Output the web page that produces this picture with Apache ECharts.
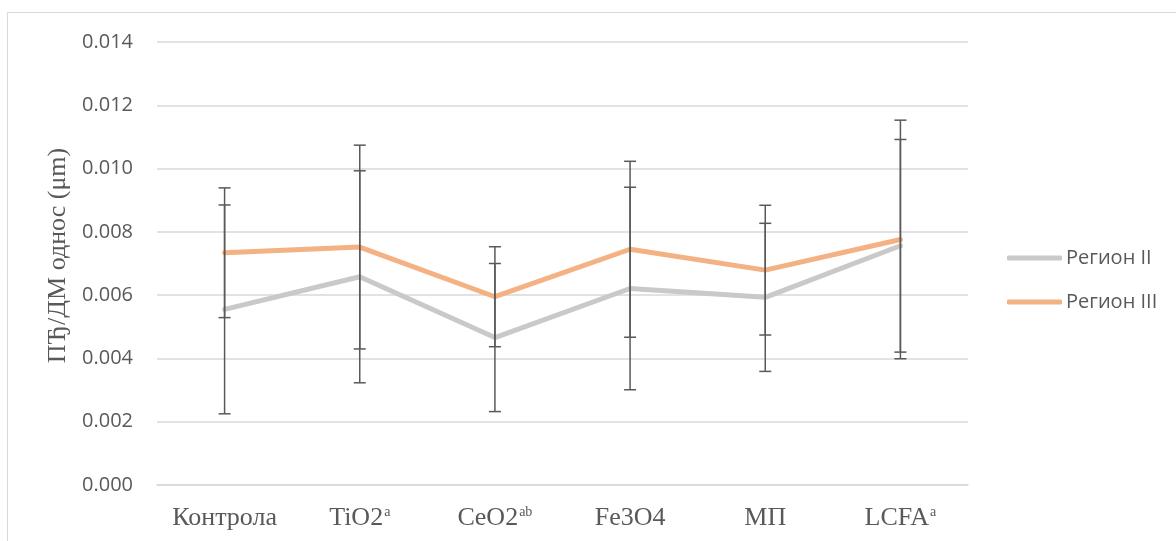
<!DOCTYPE html>
<html>
<head>
<meta charset="utf-8">
<script src="https://cdn.jsdelivr.net/npm/echarts@6/dist/echarts.min.js"></script>
<style>html,body{margin:0;padding:0;background:#fff;}#c{width:1176px;height:541px;}</style>
</head>
<body>
<div id="c"></div>
<script>
const categories = ['Контрола', 'TiO2', 'CeO2', 'Fe3O4', 'МП', 'LCFA'];
const superscripts = ['', 'a', 'ab', '', '', 'a'];
const seriesNames = ['Регион II', 'Регион III'];
const regionII = [0.00555, 0.00658, 0.00466, 0.00621, 0.00593, 0.00756];
const regionIII = [0.00734, 0.00752, 0.00595, 0.00745, 0.00679, 0.00776];
const errII = [0.0033, 0.00335, 0.00234, 0.0032, 0.00234, 0.00336];
const errIII = [0.00205, 0.00322, 0.00158, 0.00278, 0.00205, 0.00377];
const yTicks = { min: 0, max: 0.014, interval: 0.002 };
const yTitle = 'ПЂ/ДМ однос (μm)';

function errorData(vals, errs) {
  return vals.map((v, i) => [i, v - errs[i], v + errs[i]]);
}
function renderErr(params, api) {
  const i = api.value(0);
  const lo = api.coord([i, api.value(1)]);
  const hi = api.coord([i, api.value(2)]);
  const hw = 6;
  const st = { stroke: '#595959', lineWidth: 1.5 };
  return {
    type: 'group',
    children: [
      { type: 'line', shape: { x1: hi[0], y1: hi[1], x2: lo[0], y2: lo[1] }, style: st },
      { type: 'line', shape: { x1: hi[0] - hw, y1: hi[1], x2: hi[0] + hw, y2: hi[1] }, style: st },
      { type: 'line', shape: { x1: lo[0] - hw, y1: lo[1], x2: lo[0] + hw, y2: lo[1] }, style: st }
    ]
  };
}

const chart = echarts.init(document.getElementById('c'));
chart.setOption({
  animation: false,
  backgroundColor: '#fff',
  graphic: [{
    type: 'rect', shape: { x: 7.5, y: 12.5, width: 1300, height: 700 },
    style: { fill: 'none', stroke: '#D9D9D9', lineWidth: 1 }, silent: true
  }],
  grid: { left: 157, right: 208, top: 42, bottom: 56 },
  legend: {
    orient: 'vertical', left: 1007, top: 248, itemGap: 24, padding: 0,
    itemWidth: 55, itemHeight: 5, icon: 'roundRect',
    data: seriesNames,
    textStyle: { fontFamily: 'Open Sans', fontSize: 20, lineHeight: 20, color: '#595959', padding: [0, 0, 0, -1] }
  },
  xAxis: {
    type: 'category', data: categories, boundaryGap: true,
    axisLine: { show: true, lineStyle: { color: '#D9D9D9', width: 1.5 } },
    axisTick: { show: false },
    axisLabel: {
      margin: 20,
      formatter: function (v, i) {
        const s = superscripts[i];
        return '{m|' + v + '}' + (s ? '{s|' + s + '}' : '');
      },
      rich: {
        m: { fontFamily: 'Liberation Serif', fontSize: 26, color: '#595959' },
        s: { fontFamily: 'Liberation Serif', fontSize: 14, color: '#595959', verticalAlign: 'top', padding: [0, 0, 10, 1] }
      }
    }
  },
  yAxis: {
    type: 'value', min: yTicks.min, max: yTicks.max, interval: yTicks.interval,
    name: yTitle, nameLocation: 'middle', nameGap: 86, nameRotate: 90,
    nameTextStyle: { fontFamily: 'Liberation Serif', fontSize: 26, color: '#595959', padding: [0, 0, 0, 16] },
    axisLine: { show: false }, axisTick: { show: false },
    axisLabel: {
      margin: 24, fontFamily: 'Open Sans', fontSize: 20, color: '#595959',
      formatter: v => v.toFixed(3)
    },
    splitLine: { lineStyle: { color: '#D9D9D9', width: 1.5 } }
  },
  series: [
    {
      name: seriesNames[0], type: 'line', data: regionII, showSymbol: false, symbol: 'none',
      lineStyle: { color: '#C9C9C9', width: 5, cap: 'round', join: 'round' },
      itemStyle: { color: '#C9C9C9' }, z: 2
    },
    {
      name: seriesNames[1], type: 'line', data: regionIII, showSymbol: false, symbol: 'none',
      lineStyle: { color: '#F4B183', width: 5, cap: 'round', join: 'round' },
      itemStyle: { color: '#F4B183' }, z: 3
    },
    { type: 'custom', renderItem: renderErr, data: errorData(regionII, errII), z: 5, silent: true },
    { type: 'custom', renderItem: renderErr, data: errorData(regionIII, errIII), z: 5, silent: true }
  ]
});
</script>
</body>
</html>
